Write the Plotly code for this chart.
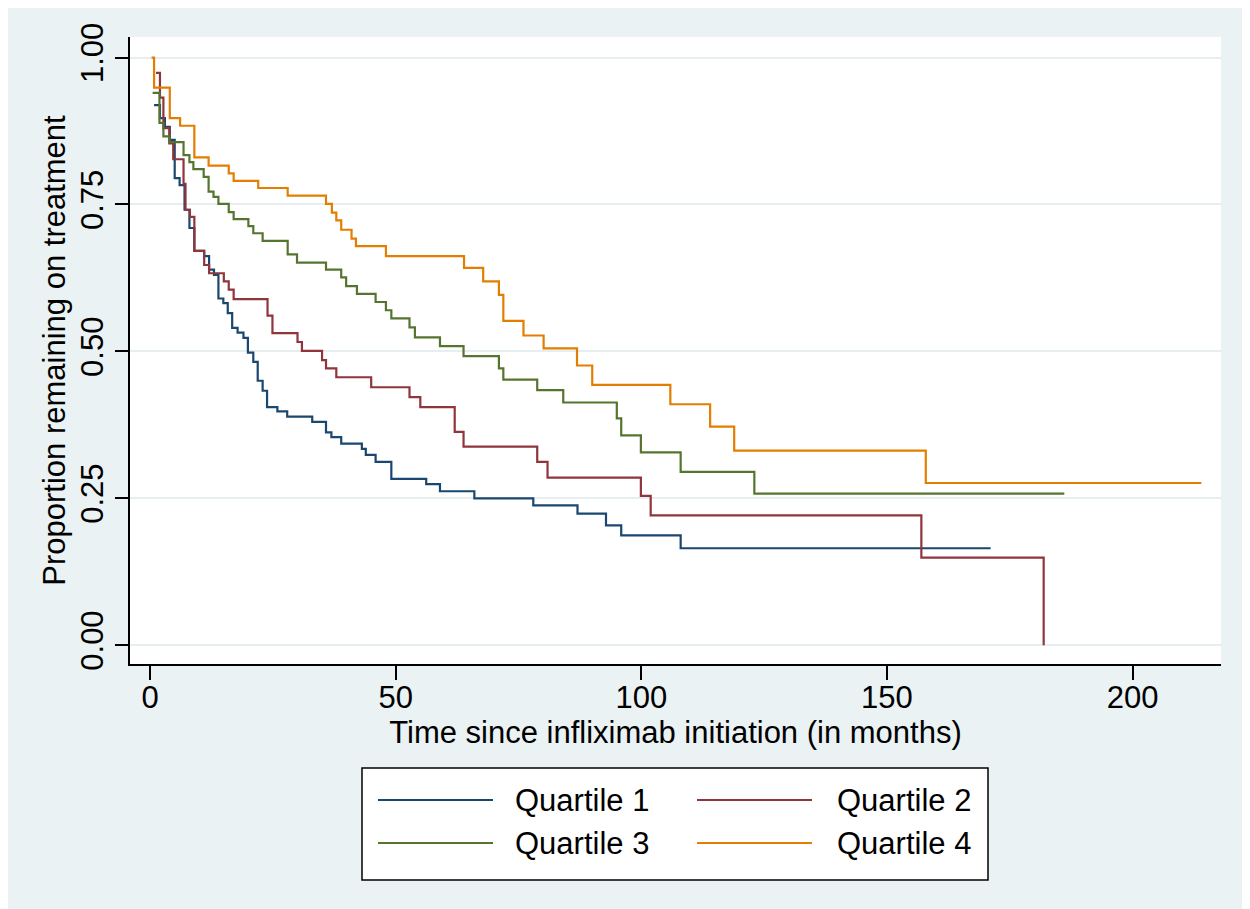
import plotly.graph_objects as go

# ---------------- data ----------------
q1_t = [0.8, 2.0, 3.0, 4.0, 5.0, 6.0, 7.0, 8.0, 9.0, 11.0, 12.0, 13.0, 13.9, 14.9, 15.8,
        16.7, 17.8, 19.0, 19.9, 21.0, 21.9, 22.9, 23.8, 25.9, 27.9, 33.0, 35.8, 36.9,
        38.9, 43.1, 43.9, 45.9, 49.1, 56.2, 59.0, 66.0, 78.0, 87.0, 92.8, 95.9, 108.0]
q1_s = [0.919, 0.897, 0.882, 0.860, 0.795, 0.783, 0.741, 0.710, 0.671, 0.662, 0.639, 0.630,
        0.590, 0.582, 0.565, 0.540, 0.532, 0.523, 0.498, 0.482, 0.450, 0.433, 0.405, 0.398,
        0.389, 0.380, 0.362, 0.354, 0.343, 0.334, 0.324, 0.312, 0.283, 0.274, 0.262, 0.250,
        0.238, 0.224, 0.204, 0.187, 0.165]
q1_end = 171.1

q2_t = [1.2, 2.0, 2.7, 3.9, 4.7, 6.8, 7.2, 8.1, 9.0, 11.0, 12.0, 15.0, 16.0, 17.0, 23.9,
        24.9, 30.0, 30.9, 35.0, 35.8, 37.9, 45.0, 52.8, 55.0, 62.0, 63.8, 78.8, 80.9,
        99.9, 101.9, 157.0, 181.9]
q2_s = [0.974, 0.932, 0.880, 0.854, 0.827, 0.785, 0.741, 0.729, 0.671, 0.647, 0.633, 0.619,
        0.605, 0.589, 0.561, 0.531, 0.516, 0.501, 0.485, 0.471, 0.456, 0.439, 0.422, 0.405,
        0.363, 0.338, 0.312, 0.285, 0.254, 0.221, 0.149, 0.0]
q2_end = 181.9

q3_t = [0.5, 1.9, 2.7, 3.9, 6.8, 8.0, 8.8, 10.9, 11.9, 12.9, 13.9, 16.0, 17.0, 20.0, 21.0,
        22.9, 28.0, 29.9, 35.8, 38.9, 39.9, 42.1, 45.9, 48.0, 49.1, 52.8, 53.9, 59.0,
        63.8, 71.0, 71.9, 78.8, 84.1, 95.0, 95.9, 99.9, 108.0, 123.0]
q3_s = [0.940, 0.889, 0.866, 0.856, 0.834, 0.822, 0.810, 0.797, 0.772, 0.763, 0.751, 0.737,
        0.725, 0.713, 0.701, 0.688, 0.665, 0.651, 0.639, 0.626, 0.611, 0.598, 0.584, 0.570,
        0.556, 0.541, 0.524, 0.509, 0.492, 0.471, 0.452, 0.434, 0.413, 0.386, 0.357, 0.328,
        0.295, 0.258]
q3_end = 186.1

q4_t = [0.3, 0.8, 4.0, 6.1, 9.0, 11.9, 16.0, 17.0, 22.0, 28.0, 35.8, 37.0, 37.9, 38.9, 41.0,
        41.9, 48.0, 63.9, 67.8, 71.0, 71.9, 76.0, 80.1, 86.9, 90.0, 105.9, 114.0, 118.9,
        157.9]
q4_s = [1.000, 0.949, 0.897, 0.884, 0.830, 0.816, 0.803, 0.790, 0.778, 0.765, 0.751, 0.736,
        0.723, 0.707, 0.692, 0.679, 0.662, 0.642, 0.619, 0.596, 0.552, 0.527, 0.505, 0.476,
        0.443, 0.410, 0.372, 0.331, 0.276]
q4_end = 214.0

series_names = ["Quartile 1", "Quartile 2", "Quartile 3", "Quartile 4"]
x_tickvals = [0, 50, 100, 150, 200]
y_tickvals = [0.0, 0.25, 0.50, 0.75, 1.00]
y_ticktext = ["0.00", "0.25", "0.50", "0.75", "1.00"]
x_title = "Time since infliximab initiation (in months)"
y_title = "Proportion remaining on treatment"

# ---------------- styling ----------------
colors = ["#1A476F", "#90353B", "#55752F", "#E37E00"]
BG = "#EAF2F3"
FONT = "Liberation Sans, Arial, sans-serif"
FS = 31

# the page body adds an 8 px offset; layout is given in figure pixels
OFF = 8
W, H = 1250, 909
L, T = 130 - OFF, 37 - OFF
PW, PH = 1091, 627
R, B = W - L - PW, H - T - PH


def fx(px):
    """screen pixel x -> paper coordinate"""
    return (px - OFF - L) / PW


def fy(py):
    """screen pixel y -> paper coordinate"""
    return (T + PH - (py - OFF)) / PH


fig = go.Figure()
series = [(q1_t, q1_s, q1_end), (q2_t, q2_s, q2_end), (q3_t, q3_s, q3_end), (q4_t, q4_s, q4_end)]
for (t, s, end), name, c in zip(series, series_names, colors):
    xs = list(t) + [end]
    ys = list(s) + [s[-1]]
    fig.add_trace(go.Scatter(x=xs, y=ys, mode="lines", name=name, line_shape="hv",
                             line=dict(color=c, width=2.2), showlegend=False))

shapes = []
annotations = []

# legend box
shapes.append(dict(type="rect", xref="paper", yref="paper", x0=fx(362), x1=fx(988), y0=fy(880), y1=fy(768),
                   fillcolor="white", line=dict(color="black", width=1.5), layer="above"))
rows = [800, 843]
cols = [(378, 493, 513), (697, 812, 835)]
for i, (name, c) in enumerate(zip(series_names, colors)):
    r = rows[i // 2]
    x0, x1, xt = cols[i % 2]
    shapes.append(dict(type="line", xref="paper", yref="paper", x0=fx(x0), x1=fx(x1), y0=fy(r), y1=fy(r),
                       line=dict(color=c, width=2.2), layer="above"))
    annotations.append(dict(xref="paper", yref="paper", x=fx(xt), y=fy(r), text=name, showarrow=False,
                            xanchor="left", yanchor="middle", font=dict(family=FONT, size=FS, color="black")))

fig.update_layout(
    width=W, height=H,
    margin=dict(l=L, r=R, t=T, b=B, pad=0),
    paper_bgcolor=BG, plot_bgcolor="white",
    font=dict(family=FONT, size=FS, color="black"),
    shapes=shapes, annotations=annotations,
    showlegend=False,
    xaxis=dict(range=[-4.1, 218], tickvals=x_tickvals, ticks="outside", ticklen=14, tickwidth=2,
               tickcolor="black", showline=True, linecolor="black", linewidth=2, showgrid=False,
               zeroline=False, tickfont=dict(family=FONT, size=FS), ticklabelstandoff=-9,
               title=dict(text=x_title, font=dict(family=FONT, size=FS), standoff=2)),
    yaxis=dict(range=[-0.032, 1.035], tickvals=y_tickvals, ticktext=y_ticktext, tickangle=-90,
               ticks="outside", ticklen=13, tickwidth=2, tickcolor="black", showline=True,
               linecolor="black", linewidth=2, showgrid=True, gridcolor="#E6EEF0", gridwidth=2,
               zeroline=False, tickfont=dict(family=FONT, size=FS),
               title=dict(text=y_title, font=dict(family=FONT, size=FS), standoff=0)),
)

fig.write_html("out.html")
